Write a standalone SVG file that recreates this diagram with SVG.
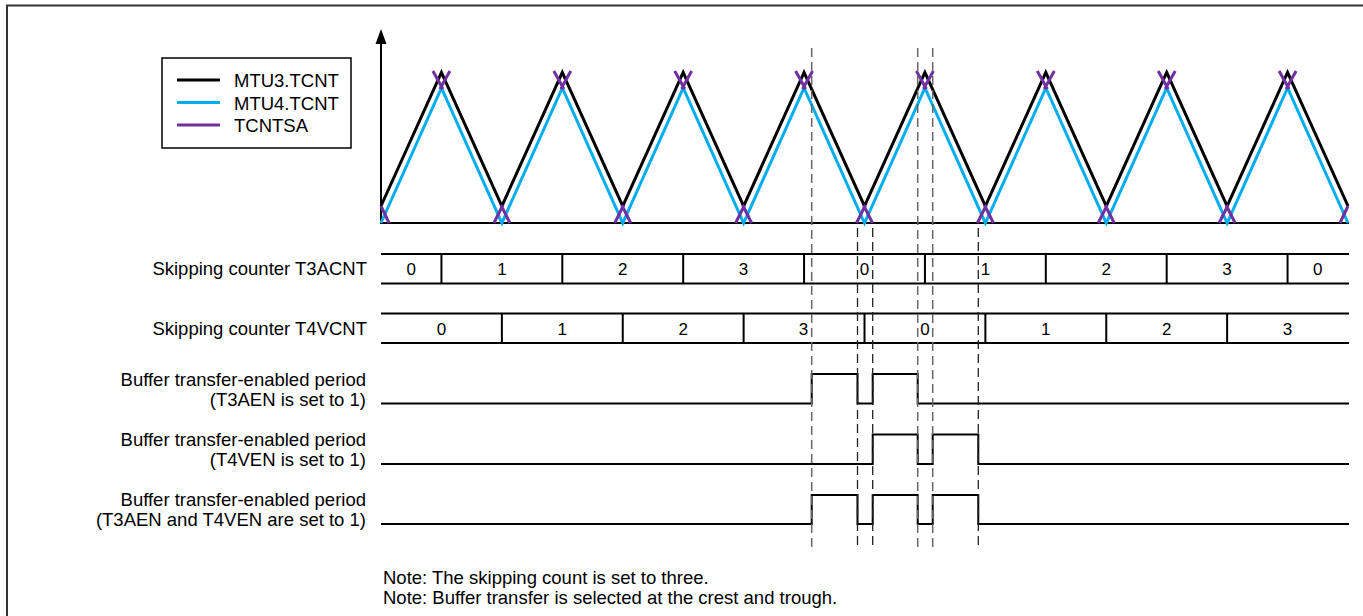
<svg xmlns="http://www.w3.org/2000/svg" width="1363" height="616" viewBox="0 0 1363 616">
<style>
text{font-family:"Liberation Sans",Arial,sans-serif;font-size:18.5px;fill:#000}
.lbl{text-anchor:end}
.num{text-anchor:middle;font-size:17px}
.ln{stroke:#000;stroke-width:2;fill:none}
.blk{stroke:#000;stroke-width:3;fill:none;stroke-linejoin:miter}
.cyn{stroke:#00AEEF;stroke-width:3;fill:none}
.pur{stroke:#7030A0;stroke-width:3;fill:none}
.dg{stroke:#666;stroke-width:1.5;stroke-dasharray:9 5;fill:none}
.dk{stroke:#222;stroke-width:1.3;stroke-dasharray:9 5;fill:none}
</style>
<rect x="0" y="0" width="1363" height="616" fill="#fff"/>
<rect id="frame" x="7" y="5.5" width="1400" height="700" fill="none" stroke="#333" stroke-width="2"/>

<g id="legend">
<rect x="162" y="58" width="189" height="90" fill="#fff" stroke="#000" stroke-width="1.5"/>
<line x1="177" y1="80" x2="220" y2="80" class="blk"/>
<line x1="177" y1="102.5" x2="220" y2="102.5" class="cyn"/>
<line x1="177" y1="125" x2="220" y2="125" class="pur"/>
<text x="234" y="87">MTU3.TCNT</text>
<text x="234" y="109.5">MTU4.TCNT</text>
<text x="234" y="132">TCNTSA</text>
</g>

<g id="axes">
<line x1="381" y1="223" x2="381" y2="42" class="ln"/>
<polygon points="381,29 375.5,44 386.5,44" fill="#000"/>
<line x1="380" y1="223" x2="1349" y2="223" class="ln"/>
</g>

<g id="waves">
<polyline class="blk" points="381,206 441.44,72.5 501.88,206 562.31,72.5 622.75,206 683.19,72.5 743.63,206 804.06,72.5 864.5,206 924.94,72.5 985.38,206 1045.81,72.5 1106.25,206 1166.69,72.5 1227.13,206 1287.56,72.5 1348,206"/>
<polyline class="cyn" points="381,223 441.44,88 501.88,223 562.31,88 622.75,223 683.19,88 743.63,223 804.06,88 864.5,223 924.94,88 985.38,223 1045.81,88 1106.25,223 1166.69,88 1227.13,223 1287.56,88 1348,223"/>
</g>

<g id="tcntsa" class="pur">
<line x1="389" y1="223" x2="381" y2="206"/>
<path d="M432.9,71 l10,18 M449.9,71 l-10,18"/>
<path d="M493.9,223 l9,-18 M509.9,223 l-9,-18"/>
<path d="M553.8,71 l10,18 M570.8,71 l-10,18"/>
<path d="M614.75,223 l9,-18 M630.75,223 l-9,-18"/>
<path d="M674.7,71 l10,18 M691.7,71 l-10,18"/>
<path d="M735.6,223 l9,-18 M751.6,223 l-9,-18"/>
<path d="M795.6,71 l10,18 M812.6,71 l-10,18"/>
<path d="M856.5,223 l9,-18 M872.5,223 l-9,-18"/>
<path d="M916.4,71 l10,18 M933.4,71 l-10,18"/>
<path d="M977.4,223 l9,-18 M993.4,223 l-9,-18"/>
<path d="M1037.3,71 l10,18 M1054.3,71 l-10,18"/>
<path d="M1098.25,223 l9,-18 M1114.25,223 l-9,-18"/>
<path d="M1158.2,71 l10,18 M1175.2,71 l-10,18"/>
<path d="M1219.1,223 l9,-18 M1235.1,223 l-9,-18"/>
<path d="M1279.1,71 l10,18 M1296.1,71 l-10,18"/>
<line x1="1340" y1="223" x2="1348" y2="206"/>
</g>

<g id="t3acnt">
<text class="lbl" x="367" y="275">Skipping counter T3ACNT</text>
<line class="ln" x1="381" y1="254" x2="1349" y2="254"/>
<line class="ln" x1="381" y1="283.5" x2="1349" y2="283.5"/>
<path class="ln" d="M441.44,254V283.5 M562.31,254V283.5 M683.19,254V283.5 M804.06,254V283.5 M924.94,254V283.5 M1045.81,254V283.5 M1166.69,254V283.5 M1287.56,254V283.5"/>
<text class="num" x="411.2" y="275">0</text>
<text class="num" x="501.9" y="275">1</text>
<text class="num" x="622.75" y="275">2</text>
<text class="num" x="743.6" y="275">3</text>
<text class="num" x="864.5" y="275">0</text>
<text class="num" x="985.4" y="275">1</text>
<text class="num" x="1106.25" y="275">2</text>
<text class="num" x="1227.1" y="275">3</text>
<text class="num" x="1317.8" y="275">0</text>
</g>

<g id="t4vcnt">
<text class="lbl" x="367" y="334.5">Skipping counter T4VCNT</text>
<line class="ln" x1="381" y1="313.5" x2="1349" y2="313.5"/>
<line class="ln" x1="381" y1="343" x2="1349" y2="343"/>
<path class="ln" d="M501.88,313.5V343 M622.75,313.5V343 M743.63,313.5V343 M864.5,313.5V343 M985.38,313.5V343 M1106.25,313.5V343 M1227.13,313.5V343"/>
<text class="num" x="441.4" y="334.5">0</text>
<text class="num" x="562.3" y="334.5">1</text>
<text class="num" x="683.2" y="334.5">2</text>
<text class="num" x="803.5" y="334.5">3</text>
<text class="num" x="924.9" y="334.5">0</text>
<text class="num" x="1045.8" y="334.5">1</text>
<text class="num" x="1166.7" y="334.5">2</text>
<text class="num" x="1287.6" y="334.5">3</text>
</g>

<g id="t3aen">
<text class="lbl" x="366" y="386">Buffer transfer-enabled period</text>
<text class="lbl" x="366" y="406">(T3AEN is set to 1)</text>
<polyline class="ln" points="381,403.5 811.7,403.5 811.7,374 857.5,374 857.5,403.5 872.7,403.5 872.7,374 917.7,374 917.7,403.5 1349,403.5"/>
</g>

<g id="t4ven">
<text class="lbl" x="366" y="446">Buffer transfer-enabled period</text>
<text class="lbl" x="366" y="466">(T4VEN is set to 1)</text>
<polyline class="ln" points="381,464 872.7,464 872.7,434.5 917.7,434.5 917.7,464 932.7,464 932.7,434.5 978.3,434.5 978.3,464 1349,464"/>
</g>

<g id="both">
<text class="lbl" x="366" y="506">Buffer transfer-enabled period</text>
<text class="lbl" x="366" y="526">(T3AEN and T4VEN are set to 1)</text>
<polyline class="ln" points="381,524 811.7,524 811.7,495 857.5,495 857.5,524 872.7,524 872.7,495 917.7,495 917.7,524 932.7,524 932.7,495 978.3,495 978.3,524 1349,524"/>
</g>

<g id="connectors">
<line class="dg" x1="811.7" y1="48" x2="811.7" y2="550"/>
<line class="dg" x1="917.7" y1="48" x2="917.7" y2="550"/>
<line class="dg" x1="932.7" y1="48" x2="932.7" y2="550"/>
<line class="dk" x1="857.5" y1="228" x2="857.5" y2="550"/>
<line class="dk" x1="872.7" y1="228" x2="872.7" y2="550"/>
<line class="dk" x1="978.3" y1="228" x2="978.3" y2="550"/>
</g>

<g id="notes">
<text x="383" y="584">Note: The skipping count is set to three.</text>
<text x="383" y="604">Note: Buffer transfer is selected at the crest and trough.</text>
</g>
</svg>
